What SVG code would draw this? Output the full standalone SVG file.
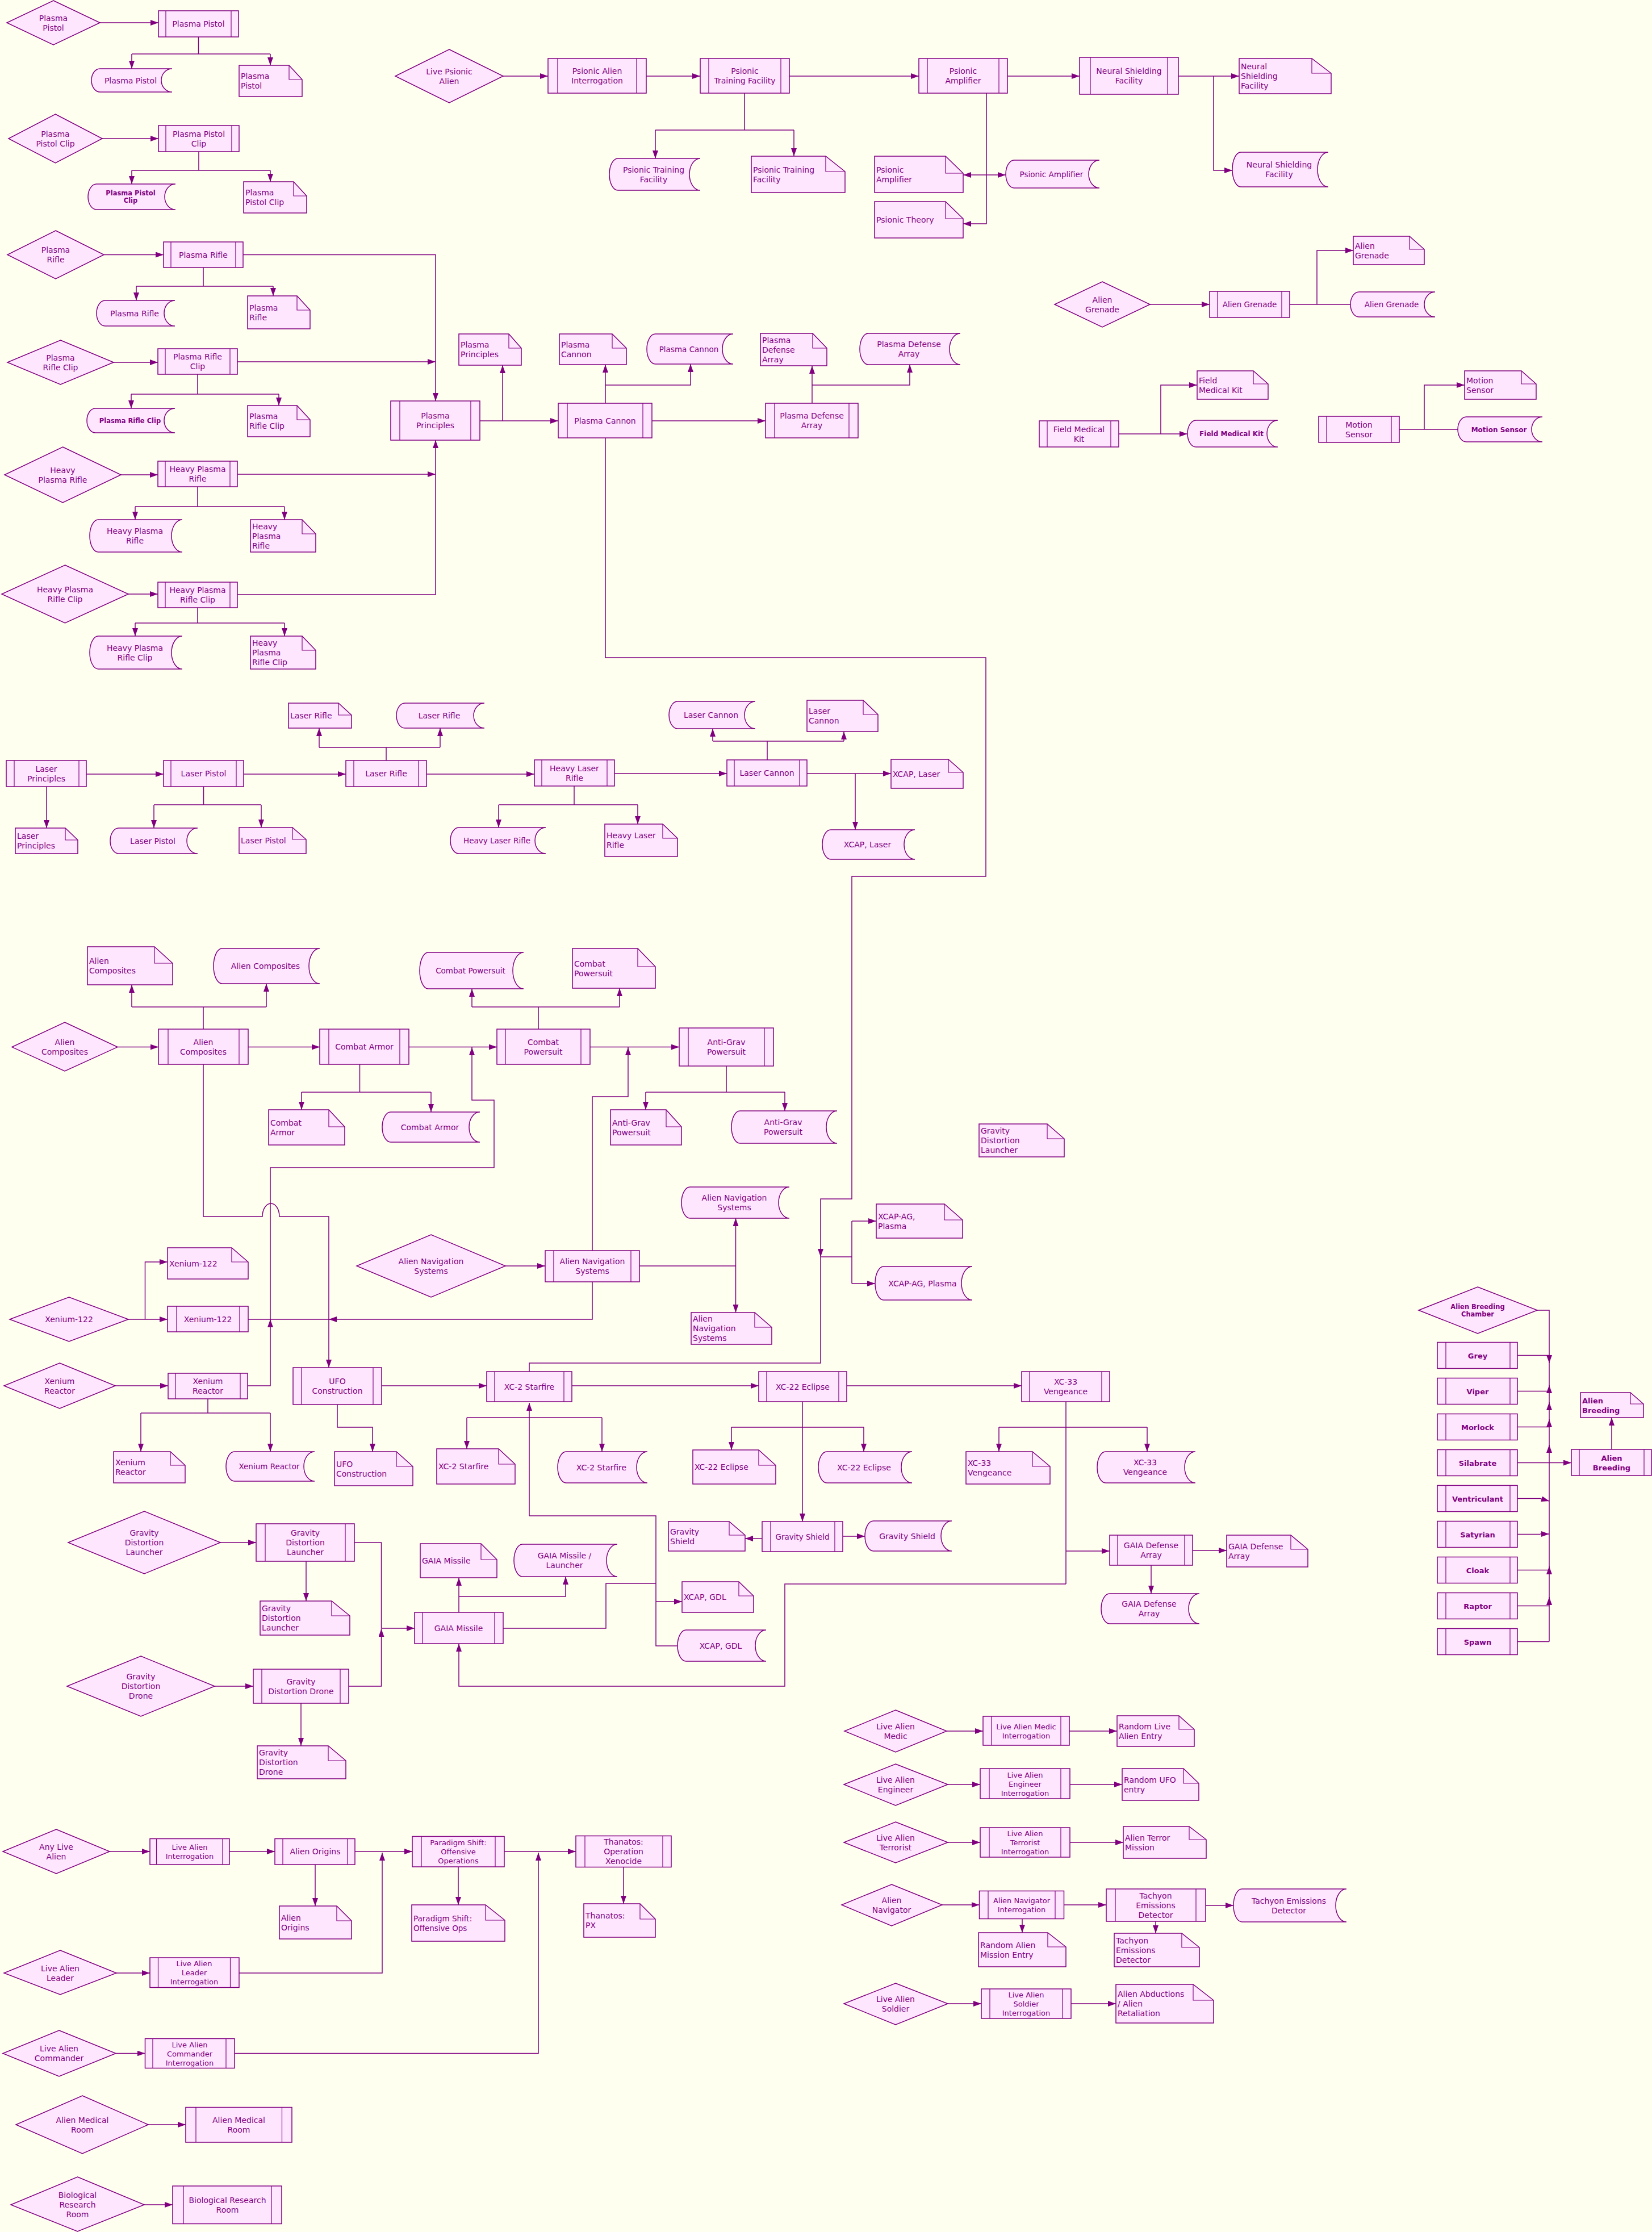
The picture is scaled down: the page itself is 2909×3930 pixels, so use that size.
<svg xmlns="http://www.w3.org/2000/svg" width="2909" height="3930" viewBox="0 0 2909 3930">
<defs>
<style>
.n{fill:#FFE6FF;stroke:#800080;stroke-width:1.5}
.il{fill:none;stroke:#800080;stroke-width:1.2}
.c{fill:none;stroke:#800080;stroke-width:1.5}
.a{marker-end:url(#ah)}
text{font-family:"DejaVu Sans",Verdana,sans-serif;font-size:14px;fill:#800080}
.m{text-anchor:middle}
.s13{font-size:13px}
.s135{font-size:13.5px}
.bs{font-weight:bold;font-size:11.5px}
.bm{font-weight:bold;font-size:12px}
.bb{font-weight:bold;font-size:13px}
</style>
<marker id="ah" viewBox="0 0 14 10" refX="14" refY="5" markerWidth="14" markerHeight="10" markerUnits="userSpaceOnUse" orient="auto"><path d="M0,0L14,5L0,10z" fill="#800080"/></marker>
</defs>
<rect width="2909" height="3930" fill="#FFFFF0"/>
<g id="nodes">
<g id="pp-d"><path class="n" d="M94,1L176,40L94,79L12,40Z"/><text class="m" x="94" y="36.5">Plasma<tspan x="94" dy="17">Pistol</tspan></text></g>
<g id="pp-p"><rect class="n" x="279" y="19" width="141" height="46"/><path class="il" d="M292,19V65M407,19V65"/><text class="m" x="349.5" y="47">Plasma Pistol</text></g>
<g id="pp-s"><path class="n" d="M176,121H303A19,20.5 0 0 0 303,162H176A15,20.5 0 0 1 176,121Z"/><text class="m" x="230" y="146.5">Plasma Pistol</text></g>
<g id="pp-doc"><path class="n" d="M421,115H509L532,140V170H421Z"/><path class="il" d="M509,115V140H532"/><text x="424" y="139">Plasma<tspan x="424" dy="17">Pistol</tspan></text></g>
<g id="ppc-d"><path class="n" d="M97.5,201L180,244L97.5,287L15,244Z"/><text class="m" x="97.5" y="240.5">Plasma<tspan x="97.5" dy="17">Pistol Clip</tspan></text></g>
<g id="ppc-p"><rect class="n" x="279" y="221" width="142" height="46"/><path class="il" d="M292,221V267M408,221V267"/><text class="m" x="350" y="240.5">Plasma Pistol<tspan x="350" dy="17">Clip</tspan></text></g>
<g id="ppc-s"><path class="n" d="M170,324H309A19,22.5 0 0 0 309,369H170A15,22.5 0 0 1 170,324Z"/><text class="m bs" x="230" y="344">Plasma Pistol<tspan x="230" dy="13">Clip</tspan></text></g>
<g id="ppc-doc"><path class="n" d="M429,320H517L540,345V375H429Z"/><path class="il" d="M517,320V345H540"/><text x="432" y="344">Plasma<tspan x="432" dy="17">Pistol Clip</tspan></text></g>
<g id="pr-d"><path class="n" d="M98,406L183,448.5L98,491L13,448.5Z"/><text class="m" x="98" y="445">Plasma<tspan x="98" dy="17">Rifle</tspan></text></g>
<g id="pr-p"><rect class="n" x="288" y="426" width="140" height="45"/><path class="il" d="M301,426V471M415,426V471"/><text class="m" x="358" y="453.5">Plasma Rifle</text></g>
<g id="pr-s"><path class="n" d="M185,529H308A19,22.5 0 0 0 308,574H185A15,22.5 0 0 1 185,529Z"/><text class="m" x="237" y="556.5">Plasma Rifle</text></g>
<g id="pr-doc"><path class="n" d="M436,521H523L546,546V579H436Z"/><path class="il" d="M523,521V546H546"/><text x="439" y="546.5">Plasma<tspan x="439" dy="17">Rifle</tspan></text></g>
<g id="prc-d"><path class="n" d="M106.5,599L200,638L106.5,677L13,638Z"/><text class="m" x="106.5" y="634.5">Plasma<tspan x="106.5" dy="17">Rifle Clip</tspan></text></g>
<g id="prc-p"><rect class="n" x="278" y="614" width="140" height="45"/><path class="il" d="M291,614V659M405,614V659"/><text class="m" x="348" y="633">Plasma Rifle<tspan x="348" dy="17">Clip</tspan></text></g>
<g id="prc-s"><path class="n" d="M168,719H308A19,21.5 0 0 0 308,762H168A15,21.5 0 0 1 168,719Z"/><text class="m bs" x="229" y="744.5">Plasma Rifle Clip</text></g>
<g id="prc-doc"><path class="n" d="M436,714H523L546,739V769H436Z"/><path class="il" d="M523,714V739H546"/><text x="439" y="738">Plasma<tspan x="439" dy="17">Rifle Clip</tspan></text></g>
<g id="hpr-d"><path class="n" d="M110.5,787L213,836L110.5,885L8,836Z"/><text class="m" x="110.5" y="832.5">Heavy<tspan x="110.5" dy="17">Plasma Rifle</tspan></text></g>
<g id="hpr-p"><rect class="n" x="278" y="812" width="140" height="45"/><path class="il" d="M291,812V857M405,812V857"/><text class="m" x="348" y="831">Heavy Plasma<tspan x="348" dy="17">Rifle</tspan></text></g>
<g id="hpr-s"><path class="n" d="M173,915H321A19,28.5 0 0 0 321,972H173A15,28.5 0 0 1 173,915Z"/><text class="m" x="237.5" y="940">Heavy Plasma<tspan x="237.5" dy="17">Rifle</tspan></text></g>
<g id="hpr-doc"><path class="n" d="M441,915H532L556,940V972H441Z"/><path class="il" d="M532,915V940H556"/><text x="444" y="931.5">Heavy<tspan x="444" dy="17">Plasma</tspan><tspan x="444" dy="17">Rifle</tspan></text></g>
<g id="hprc-d"><path class="n" d="M114.5,995L226,1046L114.5,1097L3,1046Z"/><text class="m" x="114.5" y="1042.5">Heavy Plasma<tspan x="114.5" dy="17">Rifle Clip</tspan></text></g>
<g id="hprc-p"><rect class="n" x="278" y="1025" width="140" height="45"/><path class="il" d="M291,1025V1070M405,1025V1070"/><text class="m" x="348" y="1044">Heavy Plasma<tspan x="348" dy="17">Rifle Clip</tspan></text></g>
<g id="hprc-s"><path class="n" d="M173,1120H321A19,29 0 0 0 321,1178H173A15,29 0 0 1 173,1120Z"/><text class="m" x="237.5" y="1145.5">Heavy Plasma<tspan x="237.5" dy="17">Rifle Clip</tspan></text></g>
<g id="hprc-doc"><path class="n" d="M441,1120H532L556,1145V1178H441Z"/><path class="il" d="M532,1120V1145H556"/><text x="444" y="1137">Heavy<tspan x="444" dy="17">Plasma</tspan><tspan x="444" dy="17">Rifle Clip</tspan></text></g>
<g id="ppr-p"><rect class="n" x="688" y="706" width="157" height="69"/><path class="il" d="M704,706V775M829,706V775"/><text class="m" x="766.5" y="737">Plasma<tspan x="766.5" dy="17">Principles</tspan></text></g>
<g id="ppr-doc"><path class="n" d="M808,588H896L918,613V643H808Z"/><path class="il" d="M896,588V613H918"/><text x="811" y="612">Plasma<tspan x="811" dy="17">Principles</tspan></text></g>
<g id="pc-p"><rect class="n" x="983" y="710" width="165" height="61"/><path class="il" d="M999,710V771M1132,710V771"/><text class="m" x="1065.5" y="745.5">Plasma Cannon</text></g>
<g id="pc-doc"><path class="n" d="M985,588H1078L1103,613V642H985Z"/><path class="il" d="M1078,588V613H1103"/><text x="988" y="611.5">Plasma<tspan x="988" dy="17">Cannon</tspan></text></g>
<g id="pc-s"><path class="n" d="M1154,588H1291A19,26.5 0 0 0 1291,641H1154A15,26.5 0 0 1 1154,588Z"/><text class="m s135" x="1213" y="619.5">Plasma Cannon</text></g>
<g id="pda-p"><rect class="n" x="1348" y="710" width="163" height="61"/><path class="il" d="M1364,710V771M1495,710V771"/><text class="m" x="1429.5" y="737">Plasma Defense<tspan x="1429.5" dy="17">Array</tspan></text></g>
<g id="pda-doc"><path class="n" d="M1339,587H1431L1456,613V644H1339Z"/><path class="il" d="M1431,587V613H1456"/><text x="1342" y="603.5">Plasma<tspan x="1342" dy="17">Defense</tspan><tspan x="1342" dy="17">Array</tspan></text></g>
<g id="pda-s"><path class="n" d="M1529,587H1691A19,27.5 0 0 0 1691,642H1529A15,27.5 0 0 1 1529,587Z"/><text class="m" x="1600.5" y="611">Plasma Defense<tspan x="1600.5" dy="17">Array</tspan></text></g>
<g id="lpa-d"><path class="n" d="M791,87L886,134L791,181L696,134Z"/><text class="m" x="791" y="130.5">Live Psionic<tspan x="791" dy="17">Alien</tspan></text></g>
<g id="pai-p"><rect class="n" x="965" y="103" width="173" height="61"/><path class="il" d="M982,103V164M1121,103V164"/><text class="m" x="1051.5" y="130">Psionic Alien<tspan x="1051.5" dy="17">Interrogation</tspan></text></g>
<g id="ptf-p"><rect class="n" x="1233" y="103" width="157" height="61"/><path class="il" d="M1248,103V164M1375,103V164"/><text class="m" x="1311.5" y="130">Psionic<tspan x="1311.5" dy="17">Training Facility</tspan></text></g>
<g id="ptf-s"><path class="n" d="M1088,279H1233A19,28 0 0 0 1233,335H1088A15,28 0 0 1 1088,279Z"/><text class="m" x="1151" y="303.5">Psionic Training<tspan x="1151" dy="17">Facility</tspan></text></g>
<g id="ptf-doc"><path class="n" d="M1323,275H1454L1488,302V339H1323Z"/><path class="il" d="M1454,275V302H1488"/><text x="1326" y="303.5">Psionic Training<tspan x="1326" dy="17">Facility</tspan></text></g>
<g id="pa-p"><rect class="n" x="1618" y="103" width="156" height="61"/><path class="il" d="M1633,103V164M1759,103V164"/><text class="m" x="1696" y="130">Psionic<tspan x="1696" dy="17">Amplifier</tspan></text></g>
<g id="nsf-p"><rect class="n" x="1901" y="101" width="174" height="65"/><path class="il" d="M1920,101V166M2056,101V166"/><text class="m" x="1988" y="130">Neural Shielding<tspan x="1988" dy="17">Facility</tspan></text></g>
<g id="nsf-doc"><path class="n" d="M2182,103H2310L2344,129V165H2182Z"/><path class="il" d="M2310,103V129H2344"/><text x="2185" y="122">Neural<tspan x="2185" dy="17">Shielding</tspan><tspan x="2185" dy="17">Facility</tspan></text></g>
<g id="nsf-s"><path class="n" d="M2185,268H2339A19,30.5 0 0 0 2339,329H2185A15,30.5 0 0 1 2185,268Z"/><text class="m" x="2252.5" y="295">Neural Shielding<tspan x="2252.5" dy="17">Facility</tspan></text></g>
<g id="pa-doc"><path class="n" d="M1540,275H1665L1696,305V339H1540Z"/><path class="il" d="M1665,275V305H1696"/><text x="1543" y="303.5">Psionic<tspan x="1543" dy="17">Amplifier</tspan></text></g>
<g id="pa-s"><path class="n" d="M1786,282H1936A19,24.5 0 0 0 1936,331H1786A15,24.5 0 0 1 1786,282Z"/><text class="m s135" x="1851.5" y="311.5">Psionic Amplifier</text></g>
<g id="pt-doc"><path class="n" d="M1540,355H1665L1696,385V419H1540Z"/><path class="il" d="M1665,355V385H1696"/><text x="1543" y="392">Psionic Theory</text></g>
<g id="ag-d"><path class="n" d="M1941,496L2025,536L1941,576L1857,536Z"/><text class="m" x="1941" y="532.5">Alien<tspan x="1941" dy="17">Grenade</tspan></text></g>
<g id="ag-p"><rect class="n" x="2130" y="513" width="141" height="46"/><path class="il" d="M2144,513V559M2257,513V559"/><text class="m s135" x="2200.5" y="541">Alien Grenade</text></g>
<g id="ag-doc"><path class="n" d="M2383,416H2482L2508,439V466H2383Z"/><path class="il" d="M2482,416V439H2508"/><text x="2386" y="437.5">Alien<tspan x="2386" dy="17">Grenade</tspan></text></g>
<g id="ag-s"><path class="n" d="M2393,514H2527A19,22 0 0 0 2527,558H2393A15,22 0 0 1 2393,514Z"/><text class="m s135" x="2450.5" y="541">Alien Grenade</text></g>
<g id="fmk-p"><rect class="n" x="1830" y="741" width="140" height="46"/><path class="il" d="M1844,741V787M1956,741V787"/><text class="m" x="1900" y="760.5">Field Medical<tspan x="1900" dy="17">Kit</tspan></text></g>
<g id="fmk-doc"><path class="n" d="M2108,653H2207L2233,676V703H2108Z"/><path class="il" d="M2207,653V676H2233"/><text x="2111" y="674.5">Field<tspan x="2111" dy="17">Medical Kit</tspan></text></g>
<g id="fmk-s"><path class="n" d="M2106,740H2250A19,23.5 0 0 0 2250,787H2106A15,23.5 0 0 1 2106,740Z"/><text class="m bm" x="2168.5" y="767.5">Field Medical Kit</text></g>
<g id="ms-p"><rect class="n" x="2322" y="733" width="142" height="46"/><path class="il" d="M2336,733V779M2450,733V779"/><text class="m" x="2393" y="752.5">Motion<tspan x="2393" dy="17">Sensor</tspan></text></g>
<g id="ms-doc"><path class="n" d="M2579,653H2679L2705,676V703H2579Z"/><path class="il" d="M2679,653V676H2705"/><text x="2582" y="674.5">Motion<tspan x="2582" dy="17">Sensor</tspan></text></g>
<g id="ms-s"><path class="n" d="M2582,734H2716A19,22 0 0 0 2716,778H2582A15,22 0 0 1 2582,734Z"/><text class="m bm" x="2639.5" y="760.5">Motion Sensor</text></g>
<g id="lpr-p"><rect class="n" x="11" y="1339" width="141" height="46"/><path class="il" d="M25,1339V1385M139,1339V1385"/><text class="m" x="81.5" y="1358.5">Laser<tspan x="81.5" dy="17">Principles</tspan></text></g>
<g id="lpr-doc"><path class="n" d="M27,1458H115L137,1479V1503H27Z"/><path class="il" d="M115,1458V1479H137"/><text x="30" y="1477">Laser<tspan x="30" dy="17">Principles</tspan></text></g>
<g id="lp-p"><rect class="n" x="288" y="1339" width="141" height="46"/><path class="il" d="M301,1339V1385M416,1339V1385"/><text class="m" x="358.5" y="1367">Laser Pistol</text></g>
<g id="lp-s"><path class="n" d="M209,1458H348A19,22.5 0 0 0 348,1503H209A15,22.5 0 0 1 209,1458Z"/><text class="m" x="269" y="1485.5">Laser Pistol</text></g>
<g id="lp-doc"><path class="n" d="M421,1457H515L539,1478V1503H421Z"/><path class="il" d="M515,1457V1478H539"/><text x="424" y="1485">Laser Pistol</text></g>
<g id="lr-p"><rect class="n" x="609" y="1339" width="142" height="46"/><path class="il" d="M623,1339V1385M737,1339V1385"/><text class="m" x="680" y="1367">Laser Rifle</text></g>
<g id="lr-doc"><path class="n" d="M508,1238H596L619,1259V1282H508Z"/><path class="il" d="M596,1238V1259H619"/><text x="511" y="1265">Laser Rifle</text></g>
<g id="lr-s"><path class="n" d="M713,1238H853A19,22 0 0 0 853,1282H713A15,22 0 0 1 713,1238Z"/><text class="m" x="773.5" y="1265">Laser Rifle</text></g>
<g id="hlr-p"><rect class="n" x="941" y="1338" width="141" height="46"/><path class="il" d="M954,1338V1384M1069,1338V1384"/><text class="m" x="1011.5" y="1357.5">Heavy Laser<tspan x="1011.5" dy="17">Rifle</tspan></text></g>
<g id="hlr-s"><path class="n" d="M808,1457H961A19,23 0 0 0 961,1503H808A15,23 0 0 1 808,1457Z"/><text class="m s135" x="875" y="1485">Heavy Laser Rifle</text></g>
<g id="hlr-doc"><path class="n" d="M1065,1451H1167L1193,1476V1508H1065Z"/><path class="il" d="M1167,1451V1476H1193"/><text x="1068" y="1476">Heavy Laser<tspan x="1068" dy="17">Rifle</tspan></text></g>
<g id="lc-p"><rect class="n" x="1280" y="1338" width="141" height="46"/><path class="il" d="M1293,1338V1384M1408,1338V1384"/><text class="m" x="1350.5" y="1366">Laser Cannon</text></g>
<g id="lc-s"><path class="n" d="M1193,1235H1330A19,24 0 0 0 1330,1283H1193A15,24 0 0 1 1193,1235Z"/><text class="m" x="1252" y="1264">Laser Cannon</text></g>
<g id="lc-doc"><path class="n" d="M1421,1233H1520L1546,1258V1288H1421Z"/><path class="il" d="M1520,1233V1258H1546"/><text x="1424" y="1257">Laser<tspan x="1424" dy="17">Cannon</tspan></text></g>
<g id="xl-doc"><path class="n" d="M1569,1337H1670L1696,1360V1388H1569Z"/><path class="il" d="M1670,1337V1360H1696"/><text x="1572" y="1367.5">XCAP, Laser</text></g>
<g id="xl-s"><path class="n" d="M1463,1461H1611A19,26 0 0 0 1611,1513H1463A15,26 0 0 1 1463,1461Z"/><text class="m" x="1527.5" y="1492">XCAP, Laser</text></g>
<g id="ac-d"><path class="n" d="M114,1800L207,1843.6L114,1886L21,1843.6Z"/><text class="m" x="114" y="1840">Alien<tspan x="114" dy="17">Composites</tspan></text></g>
<g id="ac-p"><rect class="n" x="279" y="1812" width="158" height="62"/><path class="il" d="M296,1812V1874M421,1812V1874"/><text class="m" x="358" y="1839.5">Alien<tspan x="358" dy="17">Composites</tspan></text></g>
<g id="ac-doc"><path class="n" d="M154,1667H272L304,1696V1734H154Z"/><path class="il" d="M272,1667V1696H304"/><text x="157" y="1697">Alien<tspan x="157" dy="17">Composites</tspan></text></g>
<g id="ac-s"><path class="n" d="M391,1670H563A19,31 0 0 0 563,1732H391A15,31 0 0 1 391,1670Z"/><text class="m" x="467.5" y="1706">Alien Composites</text></g>
<g id="ca-p"><rect class="n" x="563" y="1812" width="157" height="62"/><path class="il" d="M579,1812V1874M704,1812V1874"/><text class="m" x="641.5" y="1848">Combat Armor</text></g>
<g id="ca-doc"><path class="n" d="M473,1954H579L607,1984V2016H473Z"/><path class="il" d="M579,1954V1984H607"/><text x="476" y="1981.5">Combat<tspan x="476" dy="17">Armor</tspan></text></g>
<g id="ca-s"><path class="n" d="M688,1958H845A19,26.5 0 0 0 845,2011H688A15,26.5 0 0 1 688,1958Z"/><text class="m" x="757" y="1989.5">Combat Armor</text></g>
<g id="cp-p"><rect class="n" x="875" y="1812" width="164" height="62"/><path class="il" d="M890,1812V1874M1023,1812V1874"/><text class="m" x="956.5" y="1839.5">Combat<tspan x="956.5" dy="17">Powersuit</tspan></text></g>
<g id="cp-s"><path class="n" d="M754,1677H922A19,32 0 0 0 922,1741H754A15,32 0 0 1 754,1677Z"/><text class="m s135" x="828.5" y="1714">Combat Powersuit</text></g>
<g id="cp-doc"><path class="n" d="M1008,1670H1123L1154,1702V1740H1008Z"/><path class="il" d="M1123,1670V1702H1154"/><text x="1011" y="1701.5">Combat<tspan x="1011" dy="17">Powersuit</tspan></text></g>
<g id="agp-p"><rect class="n" x="1196" y="1810" width="166" height="67"/><path class="il" d="M1212,1810V1877M1346,1810V1877"/><text class="m" x="1279" y="1840">Anti-Grav<tspan x="1279" dy="17">Powersuit</tspan></text></g>
<g id="agp-doc"><path class="n" d="M1075,1954H1173L1200,1984V2016H1075Z"/><path class="il" d="M1173,1954V1984H1200"/><text x="1078" y="1981.5">Anti-Grav<tspan x="1078" dy="17">Powersuit</tspan></text></g>
<g id="agp-s"><path class="n" d="M1303,1956H1474A19,28.5 0 0 0 1474,2013H1303A15,28.5 0 0 1 1303,1956Z"/><text class="m" x="1379" y="1981">Anti-Grav<tspan x="1379" dy="17">Powersuit</tspan></text></g>
<g id="gdl2-doc"><path class="n" d="M1724,1979H1844L1874,2005V2037H1724Z"/><path class="il" d="M1844,1979V2005H1874"/><text x="1727" y="1996">Gravity<tspan x="1727" dy="17">Distortion</tspan><tspan x="1727" dy="17">Launcher</tspan></text></g>
<g id="ans-s"><path class="n" d="M1215,2090H1390A19,27.5 0 0 0 1390,2145H1215A15,27.5 0 0 1 1215,2090Z"/><text class="m" x="1293" y="2114">Alien Navigation<tspan x="1293" dy="17">Systems</tspan></text></g>
<g id="ans-d"><path class="n" d="M759,2174L890,2229L759,2284L628,2229Z"/><text class="m" x="759" y="2225.5">Alien Navigation<tspan x="759" dy="17">Systems</tspan></text></g>
<g id="ans-p"><rect class="n" x="960" y="2202" width="166" height="55"/><path class="il" d="M975,2202V2257M1111,2202V2257"/><text class="m" x="1043" y="2225.5">Alien Navigation<tspan x="1043" dy="17">Systems</tspan></text></g>
<g id="ans-doc"><path class="n" d="M1217,2311H1329L1359,2337V2367H1217Z"/><path class="il" d="M1329,2311V2337H1359"/><text x="1220" y="2327">Alien<tspan x="1220" dy="17">Navigation</tspan><tspan x="1220" dy="17">Systems</tspan></text></g>
<g id="xag-doc"><path class="n" d="M1543,2120H1663L1695,2148V2180H1543Z"/><path class="il" d="M1663,2120V2148H1695"/><text x="1546" y="2146.5">XCAP-AG,<tspan x="1546" dy="17">Plasma</tspan></text></g>
<g id="xag-s"><path class="n" d="M1556,2230H1712A19,29.5 0 0 0 1712,2289H1556A15,29.5 0 0 1 1556,2230Z"/><text class="m" x="1624.5" y="2264.5">XCAP-AG, Plasma</text></g>
<g id="x122-doc"><path class="n" d="M295,2197H408L437,2222V2252H295Z"/><path class="il" d="M408,2197V2222H437"/><text x="298" y="2229.5">Xenium-122</text></g>
<g id="x122-d"><path class="n" d="M121.5,2284L226,2323L121.5,2362L17,2323Z"/><text class="m" x="121.5" y="2328">Xenium-122</text></g>
<g id="x122-p"><rect class="n" x="295" y="2300" width="142" height="45"/><path class="il" d="M311,2300V2345M422,2300V2345"/><text class="m" x="366" y="2327.5">Xenium-122</text></g>
<g id="xr-d"><path class="n" d="M105,2400L203,2440L105,2480L7,2440Z"/><text class="m" x="105" y="2436.5">Xenium<tspan x="105" dy="17">Reactor</tspan></text></g>
<g id="xr-p"><rect class="n" x="296" y="2418" width="140" height="45"/><path class="il" d="M309,2418V2463M423,2418V2463"/><text class="m" x="366" y="2437">Xenium<tspan x="366" dy="17">Reactor</tspan></text></g>
<g id="xr-doc"><path class="n" d="M200,2556H300L326,2580V2611H200Z"/><path class="il" d="M300,2556V2580H326"/><text x="203" y="2580">Xenium<tspan x="203" dy="17">Reactor</tspan></text></g>
<g id="xr-s"><path class="n" d="M413,2556H554A19,26 0 0 0 554,2608H413A15,26 0 0 1 413,2556Z"/><text class="m s135" x="474" y="2587">Xenium Reactor</text></g>
<g id="ufo-p"><rect class="n" x="516" y="2408" width="156" height="65"/><path class="il" d="M531,2408V2473M657,2408V2473"/><text class="m" x="594" y="2437">UFO<tspan x="594" dy="17">Construction</tspan></text></g>
<g id="ufo-doc"><path class="n" d="M589,2556H698L727,2582V2616H589Z"/><path class="il" d="M698,2556V2582H727"/><text x="592" y="2582.5">UFO<tspan x="592" dy="17">Construction</tspan></text></g>
<g id="xc2-p"><rect class="n" x="857" y="2415" width="150" height="53"/><path class="il" d="M871,2415V2468M993,2415V2468"/><text class="m" x="932" y="2446.5">XC-2 Starfire</text></g>
<g id="xc2-doc"><path class="n" d="M769,2551H878L907,2578V2613H769Z"/><path class="il" d="M878,2551V2578H907"/><text x="772" y="2587">XC-2 Starfire</text></g>
<g id="xc2-s"><path class="n" d="M997,2556H1140A19,27.5 0 0 0 1140,2611H997A15,27.5 0 0 1 997,2556Z"/><text class="m" x="1059" y="2588.5">XC-2 Starfire</text></g>
<g id="xc22-p"><rect class="n" x="1336" y="2415" width="155" height="53"/><path class="il" d="M1350,2415V2468M1477,2415V2468"/><text class="m" x="1413.5" y="2446.5">XC-22 Eclipse</text></g>
<g id="xc22-doc"><path class="n" d="M1220,2553H1336L1366,2580V2613H1220Z"/><path class="il" d="M1336,2553V2580H1366"/><text x="1223" y="2588">XC-22 Eclipse</text></g>
<g id="xc22-s"><path class="n" d="M1456,2556H1606A19,27.5 0 0 0 1606,2611H1456A15,27.5 0 0 1 1456,2556Z"/><text class="m" x="1521.5" y="2588.5">XC-22 Eclipse</text></g>
<g id="xc33-p"><rect class="n" x="1799" y="2415" width="155" height="53"/><path class="il" d="M1813,2415V2468M1940,2415V2468"/><text class="m" x="1876.5" y="2438">XC-33<tspan x="1876.5" dy="17">Vengeance</tspan></text></g>
<g id="xc33-doc"><path class="n" d="M1701,2556H1818L1849,2582V2613H1701Z"/><path class="il" d="M1818,2556V2582H1849"/><text x="1704" y="2581">XC-33<tspan x="1704" dy="17">Vengeance</tspan></text></g>
<g id="xc33-s"><path class="n" d="M1947,2556H2105A19,27.5 0 0 0 2105,2611H1947A15,27.5 0 0 1 1947,2556Z"/><text class="m" x="2016.5" y="2580">XC-33<tspan x="2016.5" dy="17">Vengeance</tspan></text></g>
<g id="gs-doc"><path class="n" d="M1177,2679H1284L1312,2703V2731H1177Z"/><path class="il" d="M1284,2679V2703H1312"/><text x="1180" y="2701.5">Gravity<tspan x="1180" dy="17">Shield</tspan></text></g>
<g id="gs-p"><rect class="n" x="1342" y="2679" width="142" height="53"/><path class="il" d="M1357,2679V2732M1470,2679V2732"/><text class="m s135" x="1413" y="2710.5">Gravity Shield</text></g>
<g id="gs-s"><path class="n" d="M1538,2678H1676A19,26.5 0 0 0 1676,2731H1538A15,26.5 0 0 1 1538,2678Z"/><text class="m" x="1597.5" y="2709.5">Gravity Shield</text></g>
<g id="gda-p"><rect class="n" x="1954" y="2703" width="146" height="53"/><path class="il" d="M1968,2703V2756M2086,2703V2756"/><text class="m" x="2027" y="2726">GAIA Defense<tspan x="2027" dy="17">Array</tspan></text></g>
<g id="gda-doc"><path class="n" d="M2160,2703H2273L2303,2728V2759H2160Z"/><path class="il" d="M2273,2703V2728H2303"/><text x="2163" y="2727.5">GAIA Defense<tspan x="2163" dy="17">Array</tspan></text></g>
<g id="gda-s"><path class="n" d="M1954,2806H2112A19,26.5 0 0 0 2112,2859H1954A15,26.5 0 0 1 1954,2806Z"/><text class="m" x="2023.5" y="2829">GAIA Defense<tspan x="2023.5" dy="17">Array</tspan></text></g>
<g id="gdl-d"><path class="n" d="M254,2661L388,2716L254,2771L120,2716Z"/><text class="m" x="254" y="2704">Gravity<tspan x="254" dy="17">Distortion</tspan><tspan x="254" dy="17">Launcher</tspan></text></g>
<g id="gdl-p"><rect class="n" x="451" y="2683" width="173" height="66"/><path class="il" d="M467,2683V2749M608,2683V2749"/><text class="m" x="537.5" y="2704">Gravity<tspan x="537.5" dy="17">Distortion</tspan><tspan x="537.5" dy="17">Launcher</tspan></text></g>
<g id="gdl-doc"><path class="n" d="M458,2819H584L616,2845V2879H458Z"/><path class="il" d="M584,2819V2845H616"/><text x="461" y="2837">Gravity<tspan x="461" dy="17">Distortion</tspan><tspan x="461" dy="17">Launcher</tspan></text></g>
<g id="gdd-d"><path class="n" d="M248,2916L378,2969L248,3022L118,2969Z"/><text class="m" x="248" y="2957">Gravity<tspan x="248" dy="17">Distortion</tspan><tspan x="248" dy="17">Drone</tspan></text></g>
<g id="gdd-p"><rect class="n" x="446" y="2939" width="168" height="60"/><path class="il" d="M461,2939V2999M599,2939V2999"/><text class="m" x="530" y="2965.5">Gravity<tspan x="530" dy="17">Distortion Drone</tspan></text></g>
<g id="gdd-doc"><path class="n" d="M453,3074H578L609,3100V3132H453Z"/><path class="il" d="M578,3074V3100H609"/><text x="456" y="3091">Gravity<tspan x="456" dy="17">Distortion</tspan><tspan x="456" dy="17">Drone</tspan></text></g>
<g id="gm-doc"><path class="n" d="M740,2718H847L875,2746V2778H740Z"/><path class="il" d="M847,2718V2746H875"/><text x="743" y="2753">GAIA Missile</text></g>
<g id="gm-s"><path class="n" d="M920,2719H1087A19,28.5 0 0 0 1087,2776H920A15,28.5 0 0 1 920,2719Z"/><text class="m" x="994" y="2744">GAIA Missile /<tspan x="994" dy="17">Launcher</tspan></text></g>
<g id="gm-p"><rect class="n" x="730" y="2839" width="156" height="55"/><path class="il" d="M744,2839V2894M871,2839V2894"/><text class="m" x="807.5" y="2871.5">GAIA Missile</text></g>
<g id="xg-doc"><path class="n" d="M1201,2785H1301L1327,2810V2839H1201Z"/><path class="il" d="M1301,2785V2810H1327"/><text x="1204" y="2817">XCAP, GDL</text></g>
<g id="xg-s"><path class="n" d="M1208,2870H1349A19,27.5 0 0 0 1349,2925H1208A15,27.5 0 0 1 1208,2870Z"/><text class="m" x="1269" y="2902.5">XCAP, GDL</text></g>
<g id="abc-d"><path class="n" d="M2602,2266L2707,2307L2602,2348L2498,2307Z"/><text class="m bs" x="2602" y="2305">Alien Breeding<tspan x="2602" dy="13">Chamber</tspan></text></g>
<g id="grey-p"><rect class="n" x="2531" y="2363.5" width="141" height="46"/><path class="il" d="M2546,2363.5V2409.5M2659,2363.5V2409.5"/><text class="m bb" x="2602" y="2391.5">Grey</text></g>
<g id="viper-p"><rect class="n" x="2531" y="2426.5" width="141" height="46"/><path class="il" d="M2546,2426.5V2472.5M2659,2426.5V2472.5"/><text class="m bb" x="2602" y="2454.5">Viper</text></g>
<g id="morlock-p"><rect class="n" x="2531" y="2489.5" width="141" height="46"/><path class="il" d="M2546,2489.5V2535.5M2659,2489.5V2535.5"/><text class="m bb" x="2602" y="2517.5">Morlock</text></g>
<g id="silabrate-p"><rect class="n" x="2531" y="2552.5" width="141" height="46"/><path class="il" d="M2546,2552.5V2598.5M2659,2552.5V2598.5"/><text class="m bb" x="2602" y="2580.5">Silabrate</text></g>
<g id="ventriculant-p"><rect class="n" x="2531" y="2615.5" width="141" height="46"/><path class="il" d="M2546,2615.5V2661.5M2659,2615.5V2661.5"/><text class="m bb" x="2602" y="2643.5">Ventriculant</text></g>
<g id="satyrian-p"><rect class="n" x="2531" y="2678.5" width="141" height="46"/><path class="il" d="M2546,2678.5V2724.5M2659,2678.5V2724.5"/><text class="m bb" x="2602" y="2706.5">Satyrian</text></g>
<g id="cloak-p"><rect class="n" x="2531" y="2741.5" width="141" height="46"/><path class="il" d="M2546,2741.5V2787.5M2659,2741.5V2787.5"/><text class="m bb" x="2602" y="2769.5">Cloak</text></g>
<g id="raptor-p"><rect class="n" x="2531" y="2804.5" width="141" height="46"/><path class="il" d="M2546,2804.5V2850.5M2659,2804.5V2850.5"/><text class="m bb" x="2602" y="2832.5">Raptor</text></g>
<g id="spawn-p"><rect class="n" x="2531" y="2867.5" width="141" height="46"/><path class="il" d="M2546,2867.5V2913.5M2659,2867.5V2913.5"/><text class="m bb" x="2602" y="2895.5">Spawn</text></g>
<g id="ab-p"><rect class="n" x="2767" y="2552" width="141" height="46"/><path class="il" d="M2781,2552V2598M2895,2552V2598"/><text class="m bb" x="2838" y="2571.5">Alien<tspan x="2838" dy="17">Breeding</tspan></text></g>
<g id="ab-doc"><path class="n" d="M2783,2452H2871L2894,2472V2496H2783Z"/><path class="il" d="M2871,2452V2472H2894"/><text class="bb" x="2786" y="2470.5">Alien<tspan x="2786" dy="17">Breeding</tspan></text></g>
<g id="lam-d"><path class="n" d="M1577,3011L1667,3048L1577,3085L1487,3048Z"/><text class="m" x="1577" y="3044.5">Live Alien<tspan x="1577" dy="17">Medic</tspan></text></g>
<g id="lami-p"><rect class="n" x="1731" y="3022" width="152" height="51"/><path class="il" d="M1746,3022V3073M1868,3022V3073"/><text class="m s13" x="1807" y="3044.5">Live Alien Medic<tspan x="1807" dy="16">Interrogation</tspan></text></g>
<g id="rla-doc"><path class="n" d="M1967,3021H2076L2103,3045V3075H1967Z"/><path class="il" d="M2076,3021V3045H2103"/><text x="1970" y="3044.5">Random Live<tspan x="1970" dy="17">Alien Entry</tspan></text></g>
<g id="lae-d"><path class="n" d="M1577,3106L1669,3142L1577,3179L1486,3142Z"/><text class="m" x="1577" y="3138.5">Live Alien<tspan x="1577" dy="17">Engineer</tspan></text></g>
<g id="laei-p"><rect class="n" x="1726" y="3114" width="158" height="53"/><path class="il" d="M1742,3114V3167M1868,3114V3167"/><text class="m s13" x="1805" y="3129.5">Live Alien<tspan x="1805" dy="16">Engineer</tspan><tspan x="1805" dy="16">Interrogation</tspan></text></g>
<g id="ruf-doc"><path class="n" d="M1976,3114H2084L2111,3140V3170H1976Z"/><path class="il" d="M2084,3114V3140H2111"/><text x="1979" y="3138.5">Random UFO<tspan x="1979" dy="17">entry</tspan></text></g>
<g id="lat-d"><path class="n" d="M1577,3208L1669,3244L1577,3280L1486,3244Z"/><text class="m" x="1577" y="3240.5">Live Alien<tspan x="1577" dy="17">Terrorist</tspan></text></g>
<g id="lati-p"><rect class="n" x="1726" y="3218" width="158" height="52"/><path class="il" d="M1742,3218V3270M1868,3218V3270"/><text class="m s13" x="1805" y="3233">Live Alien<tspan x="1805" dy="16">Terrorist</tspan><tspan x="1805" dy="16">Interrogation</tspan></text></g>
<g id="atm-doc"><path class="n" d="M1978,3216H2094L2124,3239V3272H1978Z"/><path class="il" d="M2094,3216V3239H2124"/><text x="1981" y="3240.5">Alien Terror<tspan x="1981" dy="17">Mission</tspan></text></g>
<g id="an-d"><path class="n" d="M1570,3318L1659,3354L1570,3391L1482,3354Z"/><text class="m" x="1570" y="3350.5">Alien<tspan x="1570" dy="17">Navigator</tspan></text></g>
<g id="ani-p"><rect class="n" x="1724.5" y="3329.5" width="149" height="49"/><path class="il" d="M1740,3329.5V3378.5M1858,3329.5V3378.5"/><text class="m s13" x="1799" y="3351">Alien Navigator<tspan x="1799" dy="16">Interrogation</tspan></text></g>
<g id="ted-p"><rect class="n" x="1948" y="3326" width="175" height="57"/><path class="il" d="M1964,3326V3383M2106,3326V3383"/><text class="m" x="2035" y="3342.5">Tachyon<tspan x="2035" dy="17">Emissions</tspan><tspan x="2035" dy="17">Detector</tspan></text></g>
<g id="ted-s"><path class="n" d="M2187,3326H2371A19,29 0 0 0 2371,3384H2187A15,29 0 0 1 2187,3326Z"/><text class="m" x="2269.5" y="3351.5">Tachyon Emissions<tspan x="2269.5" dy="17">Detector</tspan></text></g>
<g id="ram-doc"><path class="n" d="M1723,3403H1845L1877,3428V3463H1723Z"/><path class="il" d="M1845,3403V3428H1877"/><text x="1726" y="3429.5">Random Alien<tspan x="1726" dy="17">Mission Entry</tspan></text></g>
<g id="tedd-doc"><path class="n" d="M1962,3404H2081L2112,3429V3463H1962Z"/><path class="il" d="M2081,3404V3429H2112"/><text x="1965" y="3421.5">Tachyon<tspan x="1965" dy="17">Emissions</tspan><tspan x="1965" dy="17">Detector</tspan></text></g>
<g id="las-d"><path class="n" d="M1577,3492L1669,3528L1577,3565L1486,3528Z"/><text class="m" x="1577" y="3524.5">Live Alien<tspan x="1577" dy="17">Soldier</tspan></text></g>
<g id="lasi-p"><rect class="n" x="1728" y="3502" width="158" height="52"/><path class="il" d="M1743,3502V3554M1871,3502V3554"/><text class="m s13" x="1807" y="3517">Live Alien<tspan x="1807" dy="16">Soldier</tspan><tspan x="1807" dy="16">Interrogation</tspan></text></g>
<g id="aba-doc"><path class="n" d="M1965,3494H2101L2137,3522V3562H1965Z"/><path class="il" d="M2101,3494V3522H2137"/><text x="1968" y="3516">Alien Abductions<tspan x="1968" dy="17">/ Alien</tspan><tspan x="1968" dy="17">Retaliation</tspan></text></g>
<g id="ala-d"><path class="n" d="M99,3221L193,3260L99,3299L5,3260Z"/><text class="m" x="99" y="3256.5">Any Live<tspan x="99" dy="17">Alien</tspan></text></g>
<g id="lai-p"><rect class="n" x="264" y="3237.5" width="140" height="45.5"/><path class="il" d="M275.5,3237.5V3283M392,3237.5V3283"/><text class="m s13" x="334" y="3257">Live Alien<tspan x="334" dy="16">Interrogation</tspan></text></g>
<g id="ao-p"><rect class="n" x="484" y="3237.5" width="141" height="45.5"/><path class="il" d="M498,3237.5V3283M612,3237.5V3283"/><text class="m" x="555" y="3265">Alien Origins</text></g>
<g id="ao-doc"><path class="n" d="M492,3356H593L619,3382V3414H492Z"/><path class="il" d="M593,3356V3382H619"/><text x="495" y="3381.5">Alien<tspan x="495" dy="17">Origins</tspan></text></g>
<g id="ps-p"><rect class="n" x="726" y="3233.5" width="162" height="53.5"/><path class="il" d="M742,3233.5V3287M872,3233.5V3287"/><text class="m s13" x="807" y="3249">Paradigm Shift:<tspan x="807" dy="16">Offensive</tspan><tspan x="807" dy="16">Operations</tspan></text></g>
<g id="ps-doc"><path class="n" d="M725,3354H855L889,3381V3418H725Z"/><path class="il" d="M855,3354V3381H889"/><text class="s135" x="728" y="3382.5">Paradigm Shift:<tspan x="728" dy="17">Offensive Ops</tspan></text></g>
<g id="th-p"><rect class="n" x="1014" y="3232.5" width="168" height="55"/><path class="il" d="M1030,3232.5V3287.5M1167,3232.5V3287.5"/><text class="m" x="1098" y="3248">Thanatos:<tspan x="1098" dy="17">Operation</tspan><tspan x="1098" dy="17">Xenocide</tspan></text></g>
<g id="th-doc"><path class="n" d="M1028,3352H1127L1154,3379V3411H1028Z"/><path class="il" d="M1127,3352V3379H1154"/><text x="1031" y="3377.5">Thanatos:<tspan x="1031" dy="17">PX</tspan></text></g>
<g id="all-d"><path class="n" d="M106,3434L205,3474L106,3512L7,3474Z"/><text class="m" x="106" y="3470.5">Live Alien<tspan x="106" dy="17">Leader</tspan></text></g>
<g id="lali-p"><rect class="n" x="264" y="3447" width="157" height="52.5"/><path class="il" d="M278.5,3447V3499.5M405.5,3447V3499.5"/><text class="m s13" x="342" y="3462">Live Alien<tspan x="342" dy="16">Leader</tspan><tspan x="342" dy="16">Interrogation</tspan></text></g>
<g id="alc-d"><path class="n" d="M104,3575L204,3615.5L104,3656L5,3615.5Z"/><text class="m" x="104" y="3612">Live Alien<tspan x="104" dy="17">Commander</tspan></text></g>
<g id="laci-p"><rect class="n" x="255.5" y="3589.5" width="157.5" height="52"/><path class="il" d="M269,3589.5V3641.5M398,3589.5V3641.5"/><text class="m s13" x="334" y="3604.5">Live Alien<tspan x="334" dy="16">Commander</tspan><tspan x="334" dy="16">Interrogation</tspan></text></g>
<g id="amr-d"><path class="n" d="M145,3690L261,3741L145,3792L28,3741Z"/><text class="m" x="145" y="3737.5">Alien Medical<tspan x="145" dy="17">Room</tspan></text></g>
<g id="amr-p"><rect class="n" x="327" y="3710.5" width="187" height="61.5"/><path class="il" d="M345,3710.5V3772M496.5,3710.5V3772"/><text class="m" x="420.5" y="3737.5">Alien Medical<tspan x="420.5" dy="17">Room</tspan></text></g>
<g id="brr-d"><path class="n" d="M136.5,3833L254,3882L136.5,3929L19,3882Z"/><text class="m" x="136.5" y="3870">Biological<tspan x="136.5" dy="17">Research</tspan><tspan x="136.5" dy="17">Room</tspan></text></g>
<g id="brr-p"><rect class="n" x="304" y="3849" width="192" height="66.5"/><path class="il" d="M323,3849V3915.5M478,3849V3915.5"/><text class="m" x="400.5" y="3878.5">Biological Research<tspan x="400.5" dy="17">Room</tspan></text></g>
</g>
<g id="connectors">
<path class="c a" d="M176,40H279"/>
<path class="c" d="M349.5,65V95M232,95H476"/>
<path class="c a" d="M232,95V121"/><path class="c a" d="M476,95V115"/>
<path class="c a" d="M180,244H279"/>
<path class="c" d="M350,267V300M232,300H476"/>
<path class="c a" d="M232,300V324"/><path class="c a" d="M476,300V320"/>
<path class="c a" d="M183,448.5H288"/>
<path class="c" d="M358,471V504M240,504H481"/>
<path class="c a" d="M240,504V529"/><path class="c a" d="M481,504V521"/>
<path class="c a" d="M428,448.5H767V706"/>
<path class="c a" d="M200,638H278"/>
<path class="c" d="M348,659V694M231,694H491"/>
<path class="c a" d="M231,694V719"/><path class="c a" d="M491,694V714"/>
<path class="c a" d="M418,637H767"/>
<path class="c a" d="M213,836H278"/>
<path class="c" d="M348,857V892M238,892H501"/>
<path class="c a" d="M238,892V915"/><path class="c a" d="M501,892V915"/>
<path class="c a" d="M418,835H767"/>
<path class="c a" d="M226,1046H278"/>
<path class="c" d="M348,1070V1097M238,1097H501"/>
<path class="c a" d="M238,1097V1120"/><path class="c a" d="M501,1097V1120"/>
<path class="c a" d="M418,1047H767V775"/>
<path class="c a" d="M845,741H983"/><path class="c a" d="M885,741V643"/>
<path class="c a" d="M1066,710V642"/><path class="c a" d="M1066,678H1216V641"/>
<path class="c a" d="M1148,741H1348"/>
<path class="c a" d="M1430,710V644"/><path class="c a" d="M1430,678H1602V642"/>
<path class="c a" d="M1066,771V1158H1736V1543H1500V2111H1445V2213"/>
<path class="c a" d="M886,134H965"/><path class="c a" d="M1138,134H1233"/><path class="c a" d="M1390,134H1618"/>
<path class="c a" d="M1774,134H1901"/><path class="c a" d="M2075,134H2182"/><path class="c a" d="M2137,134V300H2170"/>
<path class="c" d="M1311,164V229M1154,229H1398"/>
<path class="c a" d="M1154,229V279"/><path class="c a" d="M1398,229V275"/>
<path class="c a" d="M1737,164V394H1696"/>
<path class="c a" d="M1737,308H1696"/><path class="c a" d="M1737,308H1771"/>
<path class="c a" d="M2025,536H2130"/><path class="c" d="M2271,536H2378"/><path class="c a" d="M2319,536V441H2383"/>
<path class="c a" d="M1970,764H2091"/><path class="c a" d="M2044,764V678H2108"/>
<path class="c" d="M2464,756H2567"/><path class="c a" d="M2508,756V678H2579"/>
<path class="c a" d="M152,1363H288"/><path class="c a" d="M82,1385V1458"/>
<path class="c a" d="M429,1363H609"/>
<path class="c" d="M358.5,1385V1417M271,1417H460"/>
<path class="c a" d="M271,1417V1458"/><path class="c a" d="M460,1417V1457"/>
<path class="c a" d="M751,1363H941"/>
<path class="c" d="M680,1339V1316M562,1316H775"/>
<path class="c a" d="M562,1316V1282"/><path class="c a" d="M775,1316V1282"/>
<path class="c a" d="M1082,1362H1280"/>
<path class="c" d="M1011,1384V1417M878,1417H1123"/>
<path class="c a" d="M878,1417V1457"/><path class="c a" d="M1123,1417V1451"/>
<path class="c" d="M1351,1338V1305M1255,1305H1486"/>
<path class="c a" d="M1255,1305V1283"/><path class="c a" d="M1486,1305V1288"/>
<path class="c a" d="M1421,1362H1569"/><path class="c a" d="M1506,1362V1461"/>
<path class="c a" d="M207,1843.6H279"/>
<path class="c" d="M358,1812V1773M232,1773H469"/>
<path class="c a" d="M232,1773V1734"/><path class="c a" d="M469,1773V1732"/>
<path class="c a" d="M437,1843.6H563"/>
<path class="c" d="M633.5,1874V1923M531,1923H759"/>
<path class="c a" d="M531,1923V1954"/><path class="c a" d="M759,1923V1958"/>
<path class="c a" d="M720,1843.6H875"/>
<path class="c" d="M948,1812V1773M831,1773H1091"/>
<path class="c a" d="M831,1773V1741"/><path class="c a" d="M1091,1773V1740"/>
<path class="c a" d="M1039,1843.6H1196"/>
<path class="c" d="M1279,1877V1923M1137,1923H1382"/>
<path class="c a" d="M1137,1923V1954"/><path class="c a" d="M1382,1923V1956"/>
<path class="c a" d="M436,2440H476V2056H870V1937H831V1844"/>
<path class="c a" d="M476,2336V2323"/>
<path class="c a" d="M358,1874V2142H462A15,23 0 0 1 492,2142H579V2408"/>
<path class="c a" d="M226,2323H295"/><path class="c a" d="M255.5,2323V2222H295"/>
<path class="c" d="M437,2323H579"/>
<path class="c a" d="M890,2229H960"/>
<path class="c a" d="M1043,2202V1931H1106V1844"/>
<path class="c a" d="M1043,2257V2323H579"/>
<path class="c" d="M1126,2229H1295.5"/>
<path class="c a" d="M1295.5,2229V2145"/><path class="c a" d="M1295.5,2229V2311"/>
<path class="c" d="M1445,2213H1500M1500,2150V2260"/>
<path class="c a" d="M1500,2150H1543"/><path class="c a" d="M1500,2260H1541"/>
<path class="c a" d="M203,2440H296"/>
<path class="c" d="M366,2463V2488M248,2488H476"/>
<path class="c a" d="M248,2488V2556"/><path class="c a" d="M476,2488V2556"/>
<path class="c a" d="M594,2473V2513H656V2556"/>
<path class="c a" d="M672,2440H857"/>
<path class="c" d="M932,2415V2400H1445V2213"/>
<path class="c a" d="M932,2669V2470"/>
<path class="c" d="M822,2496H1060"/>
<path class="c a" d="M822,2496V2551"/><path class="c a" d="M1060,2496V2556"/>
<path class="c" d="M932,2669H1155V2898H1193"/>
<path class="c a" d="M1155,2820H1201"/>
<path class="c" d="M886,2867H1067V2788H1155"/>
<path class="c a" d="M1007,2440H1336"/>
<path class="c a" d="M1413,2468V2679"/>
<path class="c" d="M1288,2513H1521"/>
<path class="c a" d="M1288,2513V2553"/><path class="c a" d="M1521,2513V2556"/>
<path class="c a" d="M1491,2440H1799"/>
<path class="c a" d="M1342,2709H1312"/><path class="c a" d="M1484,2705H1523"/>
<path class="c" d="M1877,2468V2789M1759,2513H2020"/>
<path class="c a" d="M1759,2513V2556"/><path class="c a" d="M2020,2513V2556"/>
<path class="c a" d="M1877,2731H1954"/>
<path class="c a" d="M1877,2789H1382V2969H808V2894"/>
<path class="c a" d="M2100,2730H2160"/><path class="c a" d="M2027,2756V2806"/>
<path class="c a" d="M388,2716H451"/><path class="c a" d="M539,2749V2819"/>
<path class="c a" d="M624,2716H671.5V2867H730"/>
<path class="c a" d="M378,2969H446"/><path class="c a" d="M530,2999V3074"/>
<path class="c a" d="M614,2969H671.5V2868"/>
<path class="c a" d="M808,2839V2778"/><path class="c a" d="M808,2811H996V2776"/>
<path class="c" d="M2707,2307H2728V2890.5"/>
<path class="c" d="M2672,2386.5H2728M2672,2449.5H2728M2672,2512.5H2728M2672,2638.5H2712M2672,2701.5H2712M2672,2764.5H2728M2672,2827.5H2728M2672,2890.5H2728"/>
<path class="c a" d="M2672,2575.5H2767"/>
<path class="c a" d="M2728,2387V2400"/>
<path class="c a" d="M2728,2452V2439"/><path class="c a" d="M2728,2482V2469"/><path class="c a" d="M2728,2512V2499"/><path class="c a" d="M2728,2557V2544"/>
<path class="c a" d="M2712,2638.5L2728,2643"/><path class="c a" d="M2712,2701H2728"/>
<path class="c a" d="M2728,2771V2758"/><path class="c a" d="M2728,2826V2812"/>
<path class="c a" d="M2838,2552V2496"/>
<path class="c a" d="M1667,3048H1731"/><path class="c a" d="M1883,3048H1967"/>
<path class="c a" d="M1669,3142H1726"/><path class="c a" d="M1884,3142H1976"/>
<path class="c a" d="M1669,3244H1726"/><path class="c a" d="M1884,3244H1978"/>
<path class="c a" d="M1659,3354H1724.5"/><path class="c a" d="M1873.5,3354H1948"/>
<path class="c a" d="M2123,3355H2172"/>
<path class="c a" d="M1800,3378.5V3403"/><path class="c a" d="M2035,3383V3404"/>
<path class="c a" d="M1669,3528H1728"/><path class="c a" d="M1886,3528H1965"/>
<path class="c a" d="M193,3260H264"/><path class="c a" d="M404,3260H484"/>
<path class="c a" d="M625,3260H726"/><path class="c a" d="M888,3260H1014"/>
<path class="c a" d="M205,3474H264"/><path class="c a" d="M421,3474H673V3262"/>
<path class="c a" d="M204,3615.5H255.5"/><path class="c a" d="M413,3615.5H948V3262"/>
<path class="c a" d="M555,3283V3356"/><path class="c a" d="M807,3287V3354"/><path class="c a" d="M1098,3287.5V3352"/>
<path class="c a" d="M261,3741H327"/><path class="c a" d="M254,3882H304"/>
</g>
</svg>
